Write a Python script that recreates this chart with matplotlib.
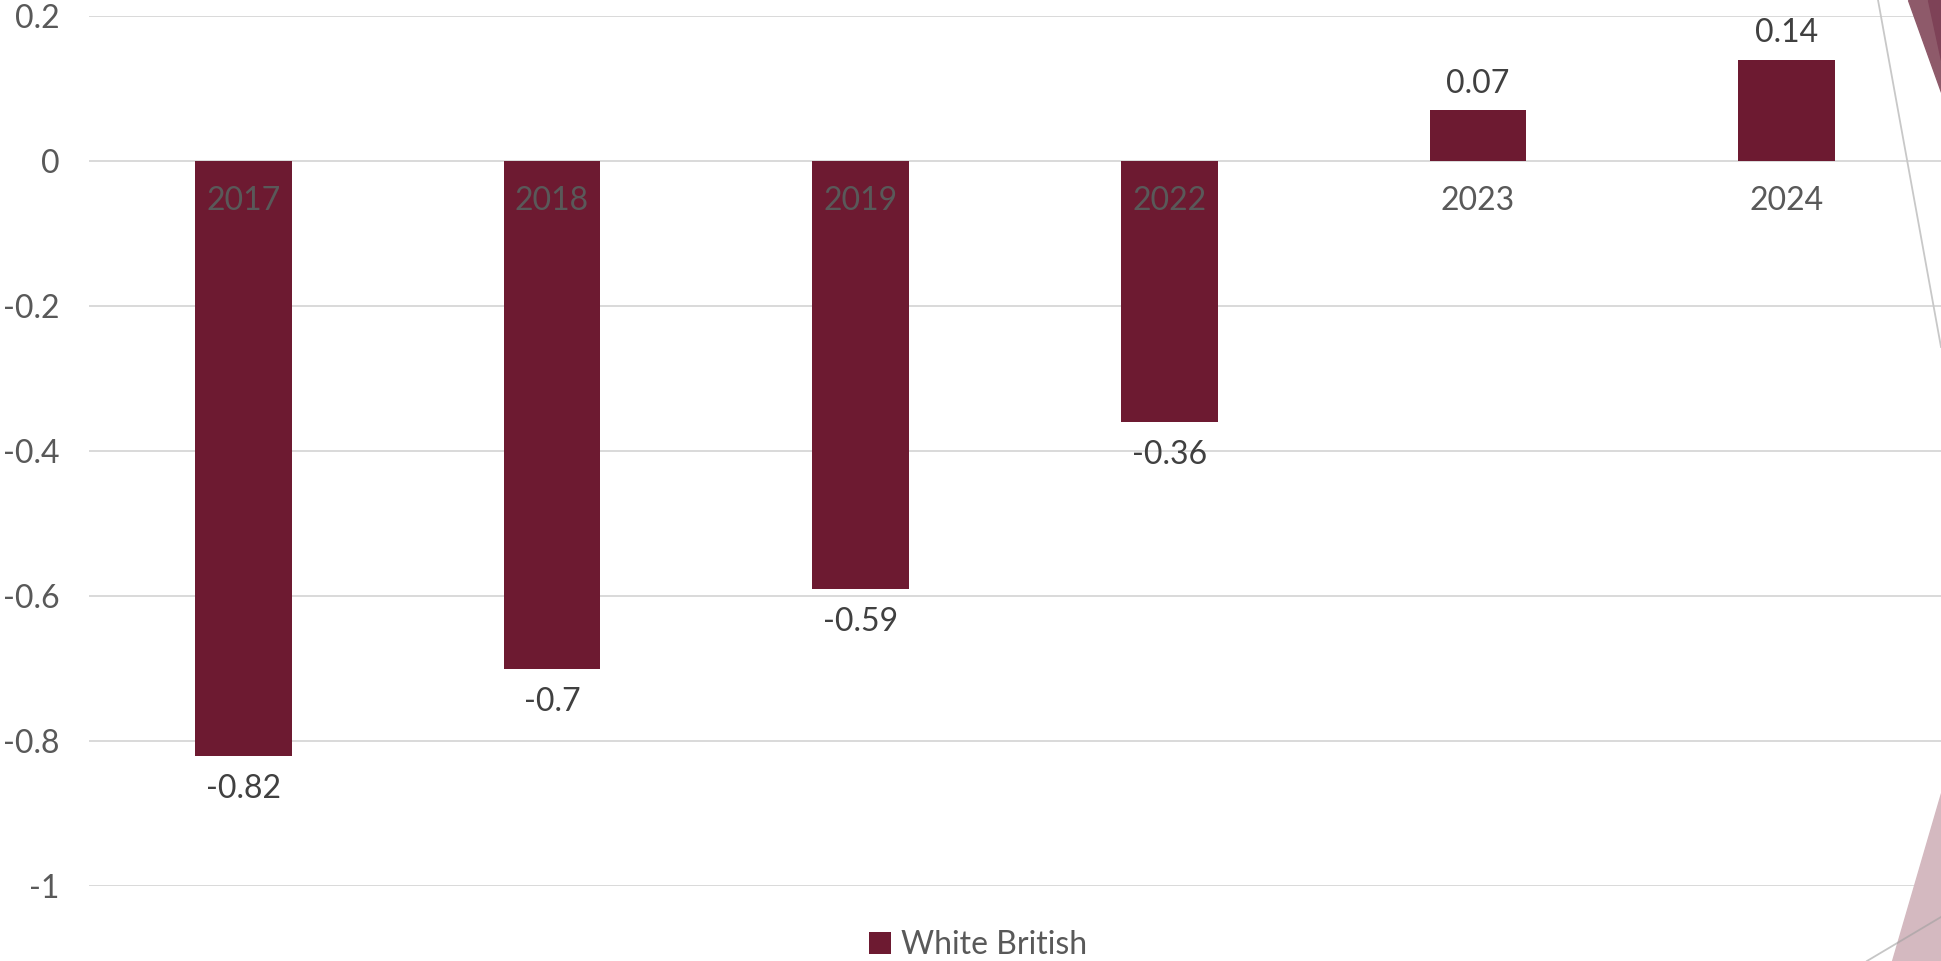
import matplotlib.pyplot as plt
from matplotlib.patches import Polygon
from matplotlib.lines import Line2D

plt.rcParams['font.family'] = ['Lato', 'DejaVu Sans']

years = ['2017', '2018', '2019', '2022', '2023', '2024']
values = [-0.82, -0.7, -0.59, -0.36, 0.07, 0.14]
value_labels = ['-0.82', '-0.7', '-0.59', '-0.36', '0.07', '0.14']
series_name = 'White British'

bar_color = '#6d1a31'
label_gray = '#595959'
value_gray = '#404040'

W, H = 1941, 961
fig = plt.figure(figsize=(W / 100, H / 100), dpi=100)
ax = fig.add_axes([89 / W, 1 - 886 / H, 1 - 89 / W, (886 - 16) / H])

x = range(len(years))
bars = ax.bar(x, values, width=0.314, color=bar_color, label=series_name, zorder=3)

ax.set_xlim(-0.5, 5.5)
ax.set_ylim(-1, 0.2)
ax.set_yticks([0.2, 0, -0.2, -0.4, -0.6, -0.8, -1])
ax.set_yticklabels(['0.2', '0', '-0.2', '-0.4', '-0.6', '-0.8', '-1'])
ax.tick_params(axis='y', length=0, pad=21, labelsize=23, labelcolor=label_gray)
ax.set_xticks([])
ax.grid(axis='y', color='#d9d9d9', linewidth=1.4, zorder=0)
for s in ax.spines.values():
    s.set_visible(False)

# category labels sit just under the zero line
for i, yr in enumerate(years):
    ax.annotate(yr, (i, 0), xytext=(0, -29), textcoords='offset points',
                ha='center', va='center', fontsize=23, color=label_gray, zorder=4)

# value labels at bar ends
for i, (v, lab) in enumerate(zip(values, value_labels)):
    off = -24 if v < 0 else 19
    ax.annotate(lab, (i, v), xytext=(0, off), textcoords='offset points',
                ha='center', va='center', fontsize=23, color=value_gray)

fig.legend(handles=[bars], labels=[series_name], loc='center',
           bbox_to_anchor=(978 / W, 1 - 945 / H), frameon=False,
           fontsize=23, labelcolor=label_gray, handlelength=0.7,
           handleheight=0.7, handletextpad=0.3)

# slide decoration at the right edge (figure pixel coords)
def px(pts):
    return [(a / W, 1 - b / H) for a, b in pts]

fig.patches.append(Polygon(px([(1908, 0), (1941, 0), (1941, 92)]),
                           closed=True, color='#8e5a6a', transform=fig.transFigure, zorder=5))
fig.patches.append(Polygon(px([(1928, 0), (1941, 0), (1941, 60)]),
                           closed=True, color='#7e4257', transform=fig.transFigure, zorder=5))
fig.patches.append(Polygon(px([(1941, 793), (1941, 961), (1892, 961)]),
                           closed=True, color='#d4b9c0', transform=fig.transFigure, zorder=5))
fig.lines.append(Line2D([1878 / W, 1941 / W], [1, 1 - 347 / H], color='#c8c8c8',
                        linewidth=1.3, transform=fig.transFigure, zorder=6))
fig.lines.append(Line2D([1867 / W, 1941 / W], [1 - 961 / H, 1 - 917 / H], color='#a0a0a0',
                        alpha=0.6, linewidth=1.3, transform=fig.transFigure, zorder=6))

fig.savefig('out.png', dpi=100)
